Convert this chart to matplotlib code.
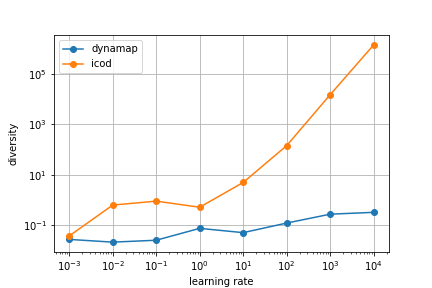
import numpy as np
import matplotlib
matplotlib.use("Agg")
import matplotlib.pyplot as plt
from matplotlib.ticker import NullLocator

learning_rates = [1e-3, 1e-2, 1e-1, 1e0, 1e1, 1e2, 1e3, 1e4]
dynamap = [0.027, 0.021, 0.025, 0.074, 0.050, 0.12, 0.27, 0.32]
icod = [0.037, 0.62, 0.89, 0.51, 4.9, 141, 14800, 1.4e6]
y_ticks = [1e-1, 1e1, 1e3, 1e5]

plt.figure(figsize=(6, 4), dpi=72)
plt.plot(learning_rates, dynamap, 'o-', label="dynamap")
plt.plot(learning_rates, icod, 'o-', label="icod")
plt.xscale("log")
plt.yscale("log")
plt.yticks(y_ticks)
plt.gca().yaxis.set_minor_locator(NullLocator())
plt.grid(True)
plt.legend(loc="upper left")
plt.gca().set(xlabel="learning rate", ylabel="diversity")
plt.subplots_adjust(left=0.125, right=0.9, bottom=0.125, top=0.878)

plt.savefig("out.png", dpi=72)
